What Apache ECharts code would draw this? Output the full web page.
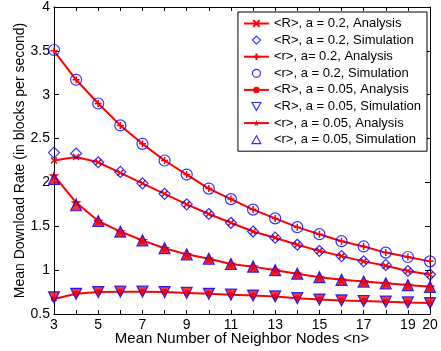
<!DOCTYPE html>
<html>
<head>
<meta charset="utf-8">
<script src="https://cdn.jsdelivr.net/npm/echarts@6/dist/echarts.min.js"></script>
<style>
  html, body { margin: 0; padding: 0; background: #fff; }
  #chart { width: 441px; height: 351px; }
</style>
</head>
<body>
<div id="chart"></div>
<script>
// mean number of neighbor nodes <n>
const nodes = [3, 4, 5, 6, 7, 8, 9, 10, 11, 12, 13, 14, 15, 16, 17, 18, 19, 20];

// <R>, a = 0.2
const bigR02Analysis = [2.25, 2.29, 2.23, 2.11, 1.99, 1.87, 1.75, 1.64, 1.54, 1.44, 1.37, 1.29, 1.22, 1.16, 1.10, 1.05, 0.99, 0.95];
const bigR02Sim = [2.34, 2.33, 2.23, 2.12, 1.99, 1.87, 1.75, 1.64, 1.54, 1.44, 1.37, 1.29, 1.22, 1.16, 1.10, 1.06, 0.99, 0.95];
// <r>, a = 0.2
const smallR02Analysis = [3.50, 3.17, 2.90, 2.65, 2.44, 2.25, 2.09, 1.93, 1.81, 1.69, 1.59, 1.49, 1.41, 1.33, 1.27, 1.20, 1.15, 1.10];
const smallR02Sim = [3.51, 3.17, 2.90, 2.65, 2.44, 2.25, 2.09, 1.93, 1.81, 1.69, 1.59, 1.49, 1.41, 1.33, 1.27, 1.20, 1.15, 1.10];
// <R>, a = 0.05
const bigR005Analysis = [0.67, 0.73, 0.75, 0.755, 0.755, 0.75, 0.74, 0.73, 0.72, 0.71, 0.70, 0.68, 0.665, 0.655, 0.648, 0.64, 0.632, 0.625];
const bigR005Sim = [0.69, 0.73, 0.75, 0.755, 0.755, 0.75, 0.74, 0.73, 0.72, 0.71, 0.70, 0.68, 0.665, 0.655, 0.648, 0.64, 0.632, 0.625];
// <r>, a = 0.05
const smallR005Analysis = [2.08, 1.77, 1.56, 1.44, 1.34, 1.25, 1.18, 1.13, 1.07, 1.04, 1.00, 0.96, 0.92, 0.89, 0.87, 0.85, 0.83, 0.81];
const smallR005Sim = [2.04, 1.74, 1.56, 1.44, 1.34, 1.25, 1.18, 1.13, 1.07, 1.04, 1.00, 0.96, 0.92, 0.89, 0.87, 0.85, 0.83, 0.81];

const names = [
  '<R>, a = 0.2, Analysis',
  '<R>, a = 0.2, Simulation',
  '<r>, a= 0.2, Analysis',
  '<r>, a = 0.2, Simulation',
  '<R>, a = 0.05, Analysis',
  '<R>, a = 0.05, Simulation',
  '<r>, a = 0.05, Analysis',
  '<r>, a = 0.05, Simulation',
];

const RED = '#ff0000';
const BLUE = '#0000ff';
const FONT = 'Liberation Sans';

const xMark = 'path://M0,0L10,10M10,0L0,10';
const plusMark = 'path://M5,0L5,10M0,5L10,5';
const starMark = 'path://M50,0L61,35L98,35L68,57L79,91L50,70L21,91L32,57L2,35L39,35Z';

// square icons for the legend so the simulation markers are not stretched
const legendIcons = [
  null,
  'path://M5,0L10,5L5,10L0,5Z',
  null,
  'circle',
  null,
  'path://M0,0L10,0L5,9Z',
  null,
  'path://M5,0L10,9L0,9Z',
];

const pairs = (ys) => nodes.map((n, i) => [n, ys[i]]);

function analysis(name, ys, symbol, size, filled) {
  return {
    name,
    type: 'line',
    data: pairs(ys),
    symbol,
    symbolSize: size,
    showAllSymbol: true,
    lineStyle: { color: RED, width: 2 },
    itemStyle: { color: RED, borderColor: RED, borderWidth: filled ? 0 : 1.5 },
    z: 2,
  };
}

function simulation(name, ys, symbol, size, rotate, fill) {
  return {
    name,
    type: 'scatter',
    data: pairs(ys),
    symbol,
    symbolSize: size,
    symbolRotate: rotate,
    itemStyle: { color: fill, borderColor: BLUE, borderWidth: 1.2 },
    z: 3,
  };
}

const chart = echarts.init(document.getElementById('chart'));

const axisText = { color: '#000', fontFamily: FONT, fontSize: 14 };

chart.setOption({
  animation: false,
  grid: { left: 54, right: 11, top: 7, bottom: 37 },
  legend: {
    orient: 'vertical',
    right: 14,
    top: 12,
    itemWidth: 25,
    itemHeight: 8,
    itemGap: 3.6,
    padding: [5, 6, 5, 5],
    symbolKeepAspect: true,
    backgroundColor: '#fff',
    borderColor: '#000',
    borderWidth: 1,
    textStyle: { color: '#000', fontFamily: FONT, fontSize: 13 },
    data: names.map((n, i) => (i % 2 === 1
      ? { name: n, icon: legendIcons[i], itemStyle: { color: 'transparent', borderColor: BLUE, borderWidth: 1.2 } }
      : { name: n })),
  },
  xAxis: [{
    type: 'value',
    min: 3,
    max: 20,
    interval: 1,
    name: 'Mean Number of Neighbor Nodes <n>',
    nameLocation: 'middle',
    nameGap: 17,
    nameMoveOverlap: false,
    nameTextStyle: { color: '#000', fontFamily: FONT, fontSize: 15 },
    axisLine: { lineStyle: { color: '#000', width: 1 } },
    axisTick: { inside: true, length: 4, lineStyle: { color: '#000' } },
    axisLabel: Object.assign({
      margin: 4,
      formatter: (v) => (v % 2 === 1 || v === 20 ? String(v) : ''),
    }, axisText),
    splitLine: { show: false },
  }, {
    type: 'value',
    position: 'top',
    min: 3,
    max: 20,
    interval: 1,
    axisLine: { lineStyle: { color: '#000', width: 1 } },
    axisTick: { inside: true, length: 4, lineStyle: { color: '#000' } },
    axisLabel: { show: false },
    splitLine: { show: false },
  }],
  yAxis: [{
    type: 'value',
    min: 0.5,
    max: 4,
    interval: 0.5,
    name: 'Mean Download Rate (in blocks per second)',
    nameLocation: 'middle',
    nameGap: 27,
    nameMoveOverlap: false,
    nameTextStyle: { color: '#000', fontFamily: FONT, fontSize: 14 },
    axisLine: { show: true, lineStyle: { color: '#000', width: 1 } },
    axisTick: { show: true, inside: true, length: 5, lineStyle: { color: '#000' } },
    axisLabel: Object.assign({ margin: 4 }, axisText),
    splitLine: { show: false },
  }, {
    type: 'value',
    position: 'right',
    min: 0.5,
    max: 4,
    interval: 0.5,
    axisLine: { show: true, lineStyle: { color: '#000', width: 1 } },
    axisTick: { show: true, inside: true, length: 5, lineStyle: { color: '#000' } },
    axisLabel: { show: false },
    splitLine: { show: false },
  }],
  series: [
    analysis(names[0], bigR02Analysis, xMark, 6, false),
    simulation(names[1], bigR02Sim, 'diamond', 11, 0, 'transparent'),
    analysis(names[2], smallR02Analysis, plusMark, 7, false),
    simulation(names[3], smallR02Sim, 'circle', 11, 0, 'transparent'),
    analysis(names[4], bigR005Analysis, 'circle', 6, true),
    simulation(names[5], bigR005Sim, 'triangle', 11, 180, RED),
    analysis(names[6], smallR005Analysis, starMark, 11, true),
    simulation(names[7], smallR005Sim, 'triangle', 11, 0, RED),
  ],
});
</script>
</body>
</html>
